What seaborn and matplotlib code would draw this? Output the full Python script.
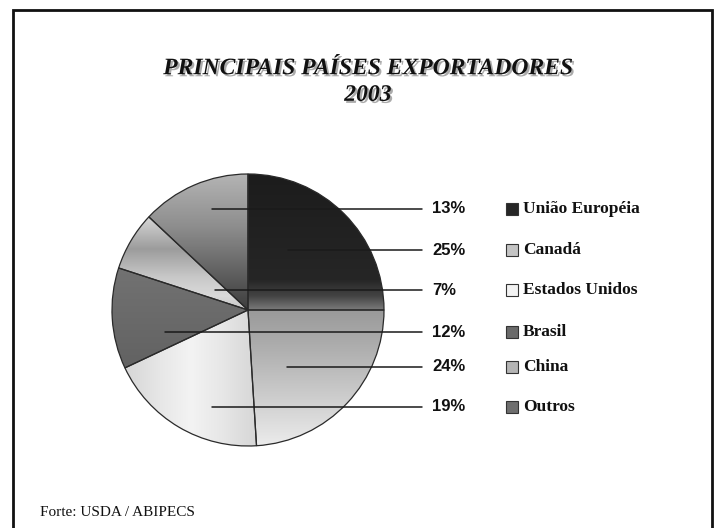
import numpy as np
import matplotlib
matplotlib.use("Agg")
import matplotlib.pyplot as plt
import matplotlib.patches as mpatches
import matplotlib.patheffects as pe
from matplotlib.colors import LinearSegmentedColormap
import seaborn as sns

# Dados (participação % nas exportações, 2003)
paises = ["União Européia", "Canadá", "Estados Unidos", "Brasil", "China", "Outros"]
participacao = [25, 24, 19, 12, 7, 13]
# ordem dos rótulos de % na coluna à direita da pizza
ordem_rotulos = ["Outros", "União Européia", "China", "Brasil", "Canadá", "Estados Unidos"]

# Estilo: degradê de cinza de cada fatia (cima -> baixo), cor base da legenda
gradientes = {
    "União Européia": [(0, "#1c1c1c"), (0.78, "#262626"), (0.9, "#444444"), (1, "#7a7a7a")],
    "Canadá": [(0, "#9a9a9a"), (0.3, "#b0b0b0"), (0.7, "#d2d2d2"), (1, "#ececec")],
    "Brasil": [(0, "#727272"), (1, "#626262")],
    "China": [(0, "#d8d8d8"), (0.35, "#9c9c9c"), (0.65, "#c8c8c8"), (0.85, "#dadada"), (1, "#c8c8c8")],
    "Outros": [(0, "#b4b4b4"), (0.4, "#8c8c8c"), (0.8, "#565656"), (1, "#3e3e3e")],
}
cor_legenda = {
    "União Européia": "#262626", "Canadá": "#c4c4c4", "Estados Unidos": "#f2f2f2",
    "Brasil": "#6a6a6a", "China": "#b4b4b4", "Outros": "#6e6e6e",
}
# posição (layout) das linhas-guia: y da coluna e x inicial dentro da fatia
linha_y = [0.743, 0.441, 0.147, -0.162, -0.419, -0.713]
linha_x0 = [-0.265, 0.294, -0.243, -0.61, 0.287, -0.265]

sns.set_theme(style="white")
plt.rcParams["font.family"] = ["Liberation Serif", "DejaVu Serif"]

fig = plt.figure(figsize=(7.18, 5.28), dpi=100)
fig.patch.set_facecolor("white")

# moldura
fig.add_artist(mpatches.Rectangle((13 / 718, -0.05), (712 - 13) / 718, 1.05 - 10 / 528,
                                  transform=fig.transFigure, fill=False,
                                  edgecolor="#111111", linewidth=2))

ax = fig.add_axes([112 / 718, (528 - 446) / 528, 272 / 718, 272 / 528])
wedges, _ = ax.pie(participacao, startangle=90, counterclock=False,
                   colors=[cor_legenda[p] for p in paises],
                   wedgeprops=dict(edgecolor="#2a2a2a", linewidth=0.9))

# degradê dentro de cada fatia
for w, p in zip(wedges, paises):
    ext = w.get_path().get_extents(w.get_patch_transform())
    if p == "Estados Unidos":
        # degradê horizontal: claro no meio
        grad = np.linspace(0, 1, 256).reshape(1, -1)
        grad = 1 - np.abs(grad - 0.5) * 2
        cmap = LinearSegmentedColormap.from_list(p, ["#d6d6d6", "#e6e6e6", "#f3f3f3"])
    else:
        grad = np.linspace(0, 1, 256).reshape(-1, 1)
        cmap = LinearSegmentedColormap.from_list(p, gradientes[p])
    im = ax.imshow(grad, cmap=cmap, extent=[ext.x0, ext.x1, ext.y0, ext.y1],
                   origin="upper", aspect="auto", zorder=1, interpolation="bilinear")
    im.set_clip_path(w)
    w.set_facecolor("none")
    w.set_zorder(3)
    w.set_clip_on(False)

ax.set_xlim(-1, 1)
ax.set_ylim(-1, 1)
ax.set_aspect("equal")
ax.axis("off")

# linhas-guia e percentuais
valor = dict(zip(paises, participacao))
for nome, y, x0 in zip(ordem_rotulos, linha_y, linha_x0):
    ax.plot([x0, 1.279], [y, y], color="#1a1a1a", linewidth=1.1, clip_on=False, zorder=4)
    ax.text(1.353, y, f"{valor[nome]}%", ha="left", va="center", fontsize=12,
            fontweight="bold", family=["Liberation Sans", "DejaVu Sans"], color="#111111",
            clip_on=False)

# legenda
for nome, y in zip(paises, linha_y):
    ax.add_patch(mpatches.Rectangle((1.897, y - 0.044), 0.088, 0.088, facecolor=cor_legenda[nome],
                                    edgecolor="#333333", linewidth=0.8, clip_on=False, zorder=4))
    ax.text(2.02, y, nome, ha="left", va="center", fontsize=12.5, fontweight="bold",
            color="#111111", clip_on=False)

# título com sombra
fig.text(368 / 718, 1 - 82 / 528, "PRINCIPAIS PAÍSES EXPORTADORES\n2003", ha="center", va="center",
         fontsize=17, fontweight="bold", fontstyle="italic", color="#111111", linespacing=1.35,
         path_effects=[pe.withSimplePatchShadow(offset=(1.5, -1.5), shadow_rgbFace="#888888", alpha=0.7)])

fig.text(40 / 718, 1 - 513 / 528, "Forte: USDA / ABIPECS", ha="left", va="center", fontsize=11,
         color="#111111")

fig.savefig("out.png", dpi=100)
